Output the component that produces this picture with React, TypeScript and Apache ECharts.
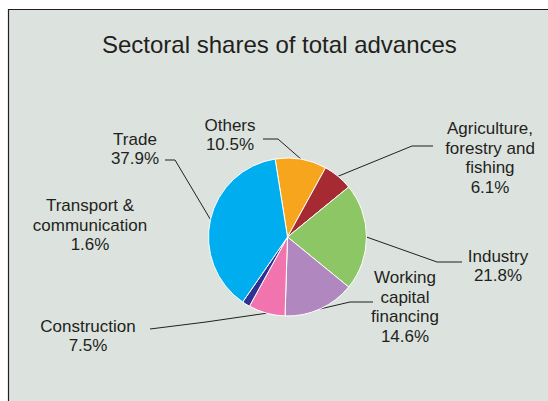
import React, { useEffect, useRef } from "react";
import * as echarts from "echarts";

const titleText = "Sectoral shares of total advances";
const categories = [
  "Others",
  "Agriculture,\nforestry and\nfishing",
  "Industry",
  "Working\ncapital\nfinancing",
  "Construction",
  "Transport &\ncommunication",
  "Trade",
];
const shares = [10.5, 6.1, 21.8, 14.6, 7.5, 1.6, 37.9];
const colors = ["#f7a51d", "#a62a32", "#8cc665", "#b087bf", "#f274ae", "#2e3191", "#00aeef"];
const showLeader = [true, true, true, true, true, false, true];

// label layout (styling): text centre and leader elbow / end
const labelCentre: number[][] = [
  [230, 135],
  [490, 158],
  [498, 266],
  [405, 307],
  [88, 336],
  [90, 225],
  [135, 149],
];
const leaderTail: number[][][] = [
  [[278, 139], [263, 139]],
  [[412, 146], [433, 146]],
  [[437, 262], [462, 262]],
  [[350, 302], [373, 302]],
  [[206, 322], [150, 329]],
  [[0, 0], [0, 0]],
  [[175, 160], [165, 160]],
];

export default function App() {
  const ref = useRef<HTMLDivElement>(null);
  useEffect(() => {
    if (!ref.current) return;
    const chart = echarts.init(ref.current, null, { renderer: "svg" });
    const font = "'Liberation Sans', Arial, sans-serif";
    chart.setOption({
      animation: false,
      backgroundColor: "#ffffff",
      graphic: [
        {
          type: "rect",
          z: -10,
          silent: true,
          shape: { x: 8.5, y: 9.5, width: 600, height: 500 },
          style: { fill: "#dce3df", stroke: "#231f20", lineWidth: 1.2 },
        },
      ],
      title: {
        text: titleText,
        left: 97,
        top: 27,
        textStyle: { fontFamily: font, fontSize: 24, fontWeight: "normal", color: "#231f20" },
      },
      series: [
        {
          type: "pie",
          center: [287.5, 237],
          radius: 79,
          startAngle: 99,
          clockwise: true,
          avoidLabelOverlap: false,
          itemStyle: { borderColor: "#ffffff", borderWidth: 1 },
          label: {
            show: true,
            position: "outside",
            fontFamily: font,
            fontSize: 17,
            lineHeight: 19.5,
            color: "#231f20",
            align: "center",
            formatter: (p: any) => `${p.name}\n${Number(p.value).toFixed(1)}%`,
          },
          labelLine: {
            show: true,
            length: 10,
            length2: 10,
            smooth: false,
            lineStyle: { color: "#231f20", width: 1 },
          },
          labelLayout: (params: any) => {
            const i = params.dataIndex;
            const c = labelCentre[i];
            const res: any = { x: c[0], y: c[1], align: "center", verticalAlign: "middle" };
            if (showLeader[i] && params.labelLinePoints) {
              const start = params.labelLinePoints[0];
              res.labelLinePoints = [start, leaderTail[i][0], leaderTail[i][1]];
            }
            return res;
          },
          emphasis: { disabled: true },
          data: categories.map((name, i) => ({
            name,
            value: shares[i],
            itemStyle: { color: colors[i] },
            labelLine: { show: showLeader[i] },
          })),
        },
      ],
    });
    return () => chart.dispose();
  }, []);
  return (
    <div
      ref={ref}
      style={{ position: "fixed", left: 0, top: 0, width: 548, height: 401 }}
    />
  );
}
